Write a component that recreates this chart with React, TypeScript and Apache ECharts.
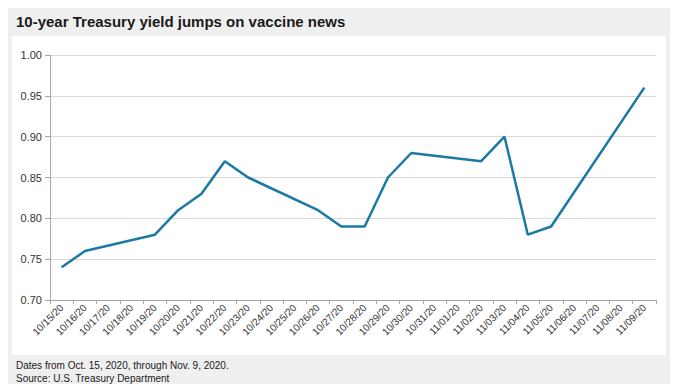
import React, { useEffect, useRef } from "react";
import * as echarts from "echarts";

const categories = [
  "10/15/20", "10/16/20", "10/17/20", "10/18/20", "10/19/20", "10/20/20", "10/21/20",
  "10/22/20", "10/23/20", "10/24/20", "10/25/20", "10/26/20", "10/27/20", "10/28/20",
  "10/29/20", "10/30/20", "10/31/20", "11/01/20", "11/02/20", "11/03/20", "11/04/20",
  "11/05/20", "11/06/20", "11/07/20", "11/08/20", "11/09/20",
];
const yieldValues: (number | null)[] = [
  0.74, 0.76, null, null, 0.78, 0.81, 0.83,
  0.87, 0.85, null, null, 0.81, 0.79, 0.79,
  0.85, 0.88, null, null, 0.87, 0.90, 0.78,
  0.79, null, null, null, 0.96,
];
const yTicks = { min: 0.7, max: 1.0, interval: 0.05 };
const titleText = "10-year Treasury yield jumps on vaccine news";
const footerLines = ["Dates from Oct. 15, 2020, through Nov. 9, 2020.", "Source: U.S. Treasury Department"];

export default function App() {
  const ref = useRef<HTMLDivElement>(null);
  useEffect(() => {
    if (!ref.current) return;
    const chart = echarts.init(ref.current, null, { renderer: "svg" });
    const font = "'Liberation Sans', Arial, sans-serif";
    chart.setOption({
      animation: false,
      backgroundColor: "#efefef",
      graphic: [
        { type: "rect", left: 4, top: 28, shape: { width: 654, height: 319 }, style: { fill: "#ffffff" }, z: -10 },
        {
          type: "text", left: 8, top: 6,
          style: { text: titleText, font: `bold 15px ${font}`, fill: "#1a1a1a" },
        },
        {
          type: "text", left: 8, top: 351,
          style: { text: footerLines.join("\n"), font: `10px ${font}`, lineHeight: 13, fill: "#1a1a1a" },
        },
      ],
      grid: { left: 42, right: 14, top: 47, height: 245, containLabel: false },
      xAxis: {
        type: "category",
        data: categories,
        boundaryGap: true,
        axisLine: { lineStyle: { color: "#a6a6a6", width: 1 } },
        axisTick: { show: true, alignWithLabel: false, length: 4, lineStyle: { color: "#a6a6a6" } },
        axisLabel: { rotate: 45, interval: 0, fontSize: 10, color: "#333", fontFamily: font, margin: 6 },
        splitLine: { show: false },
      },
      yAxis: {
        type: "value",
        min: yTicks.min,
        max: yTicks.max,
        interval: yTicks.interval,
        axisLine: { show: true, lineStyle: { color: "#a6a6a6", width: 1 } },
        axisTick: { show: true, length: 5, lineStyle: { color: "#a6a6a6" } },
        axisLabel: {
          fontSize: 11, color: "#333", fontFamily: font, margin: 8,
          formatter: (v: number) => v.toFixed(2),
        },
        splitLine: { lineStyle: { color: "#d9d9d9", width: 1 } },
      },
      series: [
        {
          type: "line",
          data: yieldValues,
          connectNulls: true,
          showSymbol: false,
          symbol: "none",
          lineStyle: { color: "#1b79a6", width: 2.5 },
        },
      ],
    });
    return () => chart.dispose();
  }, []);
  return <div ref={ref} style={{ width: 662, height: 376 }} />;
}
